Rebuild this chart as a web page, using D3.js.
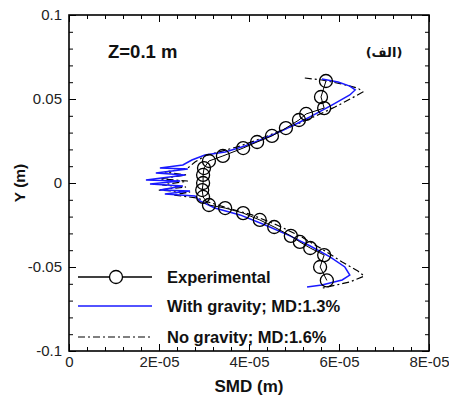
<!DOCTYPE html>
<html><head><meta charset="utf-8">
<script src="https://cdn.jsdelivr.net/npm/d3@7"></script>
<style>body{margin:0;background:#fff}svg{display:block}</style>
</head><body>
<svg id="chart" width="449" height="403"></svg>
<script>
// Experimental data: SMD (m), Y (m)
const expSMD = [5.71e-5,5.60e-5,5.67e-5,5.27e-5,5.11e-5,4.82e-5,4.51e-5,4.18e-5,3.87e-5,3.42e-5,3.11e-5,3.00e-5,2.98e-5,2.98e-5,2.96e-5,2.98e-5,3.11e-5,3.47e-5,3.87e-5,4.24e-5,4.56e-5,4.93e-5,5.13e-5,5.36e-5,5.67e-5,5.58e-5,5.73e-5];
const expY   = [0.0607,0.0512,0.0446,0.0411,0.0375,0.0327,0.0280,0.0244,0.0208,0.0161,0.0131,0.0089,0.0048,0.0000,-0.0042,-0.0083,-0.0131,-0.0149,-0.0179,-0.0220,-0.0262,-0.0315,-0.0351,-0.0387,-0.0429,-0.0500,-0.0580];
// With gravity simulation
const gravSMD = [5.62e-5,5.98e-5,6.24e-5,6.36e-5,6.24e-5,5.84e-5,5.44e-5,5.09e-5,4.73e-5,4.36e-5,3.91e-5,3.47e-5,3.02e-5,2.73e-5,2.53e-5,2.02e-5,2.64e-5,1.93e-5,2.58e-5,1.71e-5,2.47e-5,1.80e-5,2.53e-5,2.02e-5,2.69e-5,2.13e-5,2.80e-5,2.91e-5,3.24e-5,3.80e-5,4.36e-5,4.91e-5,5.36e-5,5.80e-5,6.13e-5,6.24e-5,6.07e-5,5.62e-5,5.29e-5];
const gravY   = [0.0619,0.0601,0.0577,0.0554,0.0524,0.0464,0.0405,0.0357,0.0310,0.0268,0.0220,0.0185,0.0167,0.0137,0.0107,0.0089,0.0083,0.0060,0.0048,0.0018,0.0012,-0.0006,-0.0018,-0.0042,-0.0048,-0.0065,-0.0077,-0.0107,-0.0149,-0.0190,-0.0250,-0.0315,-0.0375,-0.0440,-0.0500,-0.0548,-0.0577,-0.0607,-0.0619];
// No gravity simulation
const noGravSMD = [5.24e-5,5.62e-5,6.07e-5,6.42e-5,6.53e-5,6.29e-5,5.91e-5,5.53e-5,5.13e-5,4.69e-5,4.24e-5,3.80e-5,3.40e-5,3.02e-5,2.80e-5,2.64e-5,2.13e-5,2.60e-5,2.02e-5,2.64e-5,2.07e-5,2.60e-5,1.98e-5,2.69e-5,2.31e-5,2.84e-5,3.09e-5,3.53e-5,4.07e-5,4.62e-5,5.13e-5,5.62e-5,6.07e-5,6.42e-5,6.56e-5,6.24e-5,5.64e-5];
const noGravY   = [0.0625,0.0613,0.0589,0.0565,0.0542,0.0506,0.0452,0.0405,0.0357,0.0310,0.0262,0.0220,0.0190,0.0161,0.0125,0.0089,0.0065,0.0048,0.0024,0.0012,-0.0012,-0.0024,-0.0042,-0.0054,-0.0071,-0.0089,-0.0113,-0.0149,-0.0190,-0.0250,-0.0315,-0.0393,-0.0470,-0.0524,-0.0554,-0.0589,-0.0625];

const xTicks = [0, 2e-5, 4e-5, 6e-5, 8e-5];
const xTickLabels = ["0", "2E-05", "4E-05", "6E-05", "8E-05"];
const yTicks = [-0.1, -0.05, 0, 0.05, 0.1];
const yTickLabels = ["-0.1", "-0.05", "0", "0.05", "0.1"];
const legendLabels = ["Experimental", "With gravity; MD:1.3%", "No gravity; MD:1.6%"];

const svg = d3.select("#chart");
const L = 69, R = 429, T = 15, B = 351;
const x = d3.scaleLinear().domain([0, 8e-5]).range([L, R]);
const y = d3.scaleLinear().domain([-0.1, 0.1]).range([B, T]);
svg.append("rect").attr("width",449).attr("height",403).attr("fill","#fff");

const font = "'Liberation Sans', Arial, sans-serif";
const xMinor = d3.range(0, 8e-5 + 1e-12, 4e-6);
const yMinor = d3.range(-0.1, 0.1 + 1e-9, 0.01);

function tickGroup(axisGen, transform) {
  const g = svg.append("g").attr("transform", transform).call(axisGen);
  g.select(".domain").remove();
  g.selectAll("line").attr("stroke","#000").attr("stroke-width",1);
  return g;
}
// major ticks inward with labels
tickGroup(d3.axisBottom(x).tickValues(xTicks).tickSizeInner(-7).tickSizeOuter(0).tickPadding(5).tickFormat((d,i)=>xTickLabels[i]), `translate(0,${B})`)
  .selectAll("text").attr("font-family",font).attr("font-size",15).attr("fill","#222");
tickGroup(d3.axisLeft(y).tickValues(yTicks).tickSizeInner(-7).tickSizeOuter(0).tickPadding(7).tickFormat((d,i)=>yTickLabels[i]), `translate(${L},0)`)
  .selectAll("text").attr("font-family",font).attr("font-size",15).attr("fill","#222");
tickGroup(d3.axisTop(x).tickValues(xTicks).tickSizeInner(-7).tickSizeOuter(0).tickFormat(""), `translate(0,${T})`);
tickGroup(d3.axisRight(y).tickValues(yTicks).tickSizeInner(-7).tickSizeOuter(0).tickFormat(""), `translate(${R},0)`);
// minor ticks
tickGroup(d3.axisBottom(x).tickValues(xMinor).tickSizeInner(-4).tickSizeOuter(0).tickFormat(""), `translate(0,${B})`);
tickGroup(d3.axisTop(x).tickValues(xMinor).tickSizeInner(-4).tickSizeOuter(0).tickFormat(""), `translate(0,${T})`);
tickGroup(d3.axisLeft(y).tickValues(yMinor).tickSizeInner(-4).tickSizeOuter(0).tickFormat(""), `translate(${L},0)`);
tickGroup(d3.axisRight(y).tickValues(yMinor).tickSizeInner(-4).tickSizeOuter(0).tickFormat(""), `translate(${R},0)`);

// series
const line = d3.line().x(d=>x(d[0])).y(d=>y(d[1]));
const exp = expSMD.map((v,i)=>[v, expY[i]]);
const grav = gravSMD.map((v,i)=>[v, gravY[i]]);
const noGrav = noGravSMD.map((v,i)=>[v, noGravY[i]]);

svg.append("path").attr("d", line(noGrav)).attr("fill","none").attr("stroke","#000").attr("stroke-width",1.2).attr("stroke-dasharray","7,3,2,3");
svg.append("path").attr("d", line(grav)).attr("fill","none").attr("stroke","#1a1aff").attr("stroke-width",1.5);
svg.append("path").attr("d", line(exp)).attr("fill","none").attr("stroke","#000").attr("stroke-width",1);
svg.append("g").selectAll("circle").data(exp).join("circle")
  .attr("cx",d=>x(d[0])).attr("cy",d=>y(d[1])).attr("r",6.5)
  .attr("fill","none").attr("stroke","#000").attr("stroke-width",1.3);

// frame
svg.append("rect").attr("x",L).attr("y",T).attr("width",R-L).attr("height",B-T)
  .attr("fill","none").attr("stroke","#000").attr("stroke-width",1.6);

// legend
const lg = svg.append("g");
const legY = [277, 306, 337];
lg.append("line").attr("x1",78).attr("x2",152).attr("y1",legY[0]).attr("y2",legY[0]).attr("stroke","#000").attr("stroke-width",1.5);
lg.append("circle").attr("cx",116).attr("cy",legY[0]).attr("r",6.5).attr("fill","#fff").attr("stroke","#000").attr("stroke-width",1.3);
lg.append("line").attr("x1",78).attr("x2",152).attr("y1",legY[1]).attr("y2",legY[1]).attr("stroke","#1a1aff").attr("stroke-width",1.5);
lg.append("line").attr("x1",78).attr("x2",152).attr("y1",legY[2]).attr("y2",legY[2]).attr("stroke","#000").attr("stroke-width",1.2).attr("stroke-dasharray","7,3,2,3");
legendLabels.forEach((t,i)=>{
  lg.append("text").attr("x",167).attr("y",legY[i]+6).attr("font-family",font).attr("font-weight","bold").attr("font-size",16.5).attr("fill","#111").text(t);
});

// annotations
svg.append("text").attr("x",108).attr("y",58).attr("font-family",font).attr("font-weight","bold").attr("font-size",18.5).attr("fill","#111").text("Z=0.1 m");
svg.append("text").attr("x",384).attr("y",57).attr("text-anchor","middle").attr("font-family","'DejaVu Sans', sans-serif").attr("font-weight","bold").attr("font-size",13).attr("fill","#111").attr("direction","rtl").attr("unicode-bidi","embed").text("(الف)");

// axis titles
svg.append("text").attr("x",(L+R)/2).attr("y",392).attr("text-anchor","middle").attr("font-family",font).attr("font-weight","bold").attr("font-size",17).attr("fill","#111").text("SMD (m)");
svg.append("text").attr("transform",`translate(25,${(T+B)/2}) rotate(-90)`).attr("text-anchor","middle").attr("font-family",font).attr("font-weight","bold").attr("font-size",15.5).attr("fill","#111").text("Y (m)");
</script>
</body></html>
